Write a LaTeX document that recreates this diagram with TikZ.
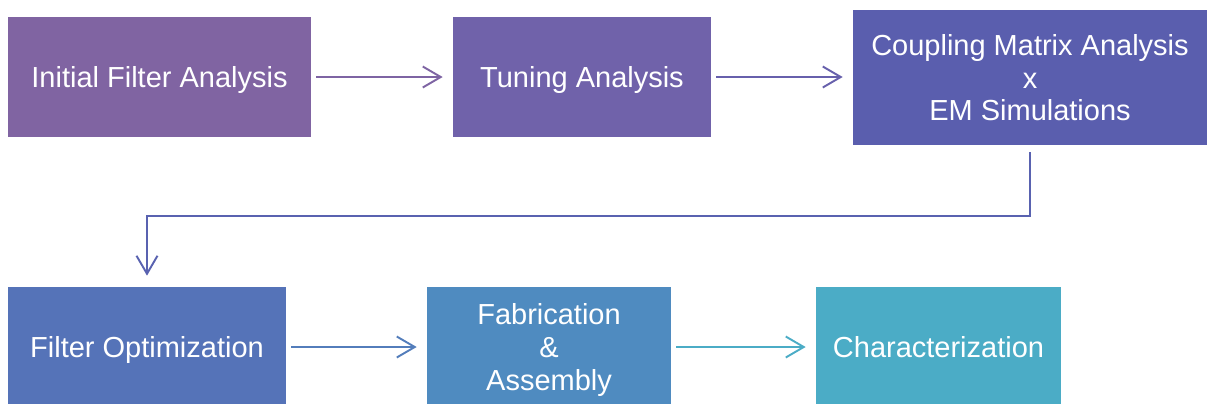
\documentclass[tikz,border=0pt]{standalone}
\usepackage{fontspec}
\setmainfont{Liberation Sans}
\usepackage{xcolor}
\usetikzlibrary{arrows.meta}
\definecolor{initcol}{HTML}{8064A2}
\definecolor{tunecol}{HTML}{7062AA}
\definecolor{emcol}{HTML}{5A5EAE}
\definecolor{optcol}{HTML}{5573B8}
\definecolor{fabcol}{HTML}{4F8BC0}
\definecolor{charcol}{HTML}{4BACC6}

\begin{document}
\begin{tikzpicture}[x=0.02cm,y=-0.02cm,
		stagebox/.style={fill=#1,text=white,inner sep=0pt,align=center,text depth=0pt,
			font=\fontsize{16.5}{18.7}\selectfont},
		flow/.style={draw=#1,line width=1.1pt,shorten <=0.1cm,shorten >=0.2cm,
			-{Straight Barb[length=3.6mm,width=4.2mm]}}]
			\useasboundingbox (0,0) rectangle (1207,403);
			% top row
			\node[stagebox=initcol,minimum width=6.06cm,minimum height=2.4cm] (init) at (159.5,77) {Initial Filter Analysis};
			\node[stagebox=tunecol,minimum width=5.16cm,minimum height=2.4cm] (tune) at (582,77) {Tuning Analysis};
			\node[stagebox=emcol,minimum width=7.08cm,minimum height=2.7cm] (em) at (1030,77.5) {Coupling Matrix Analysis\\x\\EM Simulations};
			% bottom row
			\node[stagebox=optcol,minimum width=5.56cm,minimum height=2.4cm] (opt) at (147,347) {Filter Optimization};
			\node[stagebox=fabcol,minimum width=4.88cm,minimum height=2.4cm] (fab) at (549,347) {Fabrication\\\&\\Assembly};
			\node[stagebox=charcol,minimum width=4.9cm,minimum height=2.4cm] (char) at (938.5,347) {Characterization};
			% arrows
			\draw[flow=initcol!90!tunecol] (init) -- (tune);
			\draw[flow=tunecol!60!emcol] (tune) -- (em.west |- tune);
			\draw[flow=emcol!80!optcol,shorten <=0.14cm,shorten >=0.22cm] (em.south) -- ++(0,71) -| (opt.north);
			\draw[flow=optcol!60!fabcol] (opt.east) -- (fab.west);
			\draw[flow=charcol] (fab.east) -- (char.west);
		\end{tikzpicture}
\end{document}
